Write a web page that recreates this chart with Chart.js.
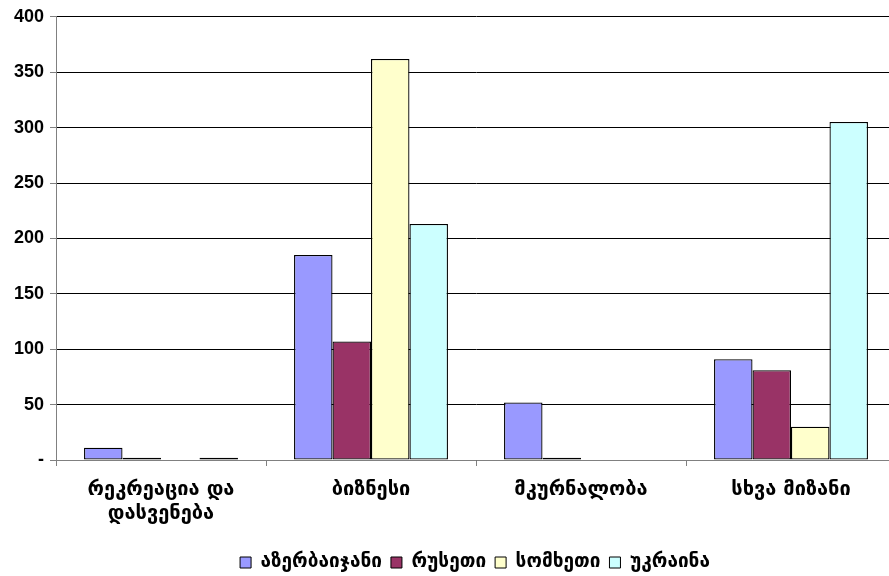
<!DOCTYPE html>
<html>
<head>
<meta charset="utf-8">
<script src="https://cdn.jsdelivr.net/npm/chart.js@4/dist/chart.umd.min.js"></script>
<style>
html,body{margin:0;padding:0;overflow:hidden;background:#fff;}
#wrap{position:absolute;left:0;top:0;width:950px;height:576px;}
</style>
</head>
<body>
<div id="wrap"><canvas id="c"></canvas></div>
<script>
const categories = [["რეკრეაცია და", "დასვენება"], "ბიზნესი", "მკურნალობა", "სხვა მიზანი"];
const seriesNames = ["აზერბაიჯანი", "რუსეთი", "სომხეთი", "უკრაინა"];
const azerbaijan = [11, 185, 52, 91];
const russia = [2, 107, 2, 81];
const armenia = [0, 362, 0, 30];
const ukraine = [2, 213, 0, 305];
const seriesColors = ["#9999FF", "#993366", "#FFFFCC", "#CCFFFF"];
const yTicks = [0, 50, 100, 150, 200, 250, 300, 350, 400];

const values = [azerbaijan, russia, armenia, ukraine];
const geo = "'DejaVu Sans', sans-serif";

new Chart(document.getElementById('c'), {
  type: 'bar',
  data: {
    labels: categories,
    datasets: seriesNames.map((n, i) => ({
      label: n,
      data: values[i],
      backgroundColor: seriesColors[i],
      borderColor: '#000',
      borderWidth: 1.3,
      borderSkipped: false,
      categoryPercentage: 0.733,
      barPercentage: 1.0
    }))
  },
  options: {
    responsive: true,
    maintainAspectRatio: false,
    animation: false,
    layout: { padding: { left: 0, right: 0, top: 15, bottom: -6 } },
    plugins: {
      tooltip: { enabled: false },
      legend: {
        position: 'bottom',
        labels: {
          boxWidth: 11, boxHeight: 11,
          color: '#000',
          font: { family: geo, size: 19, weight: 'bold' },
          padding: 9,
          generateLabels: (chart) => chart.data.datasets.map((d, i) => ({
            text: d.label, fillStyle: d.backgroundColor, strokeStyle: '#000', lineWidth: 1, datasetIndex: i, fontColor: '#000'
          }))
        }
      }
    },
    scales: {
      x: {
        grid: { display: true, drawOnChartArea: false, offset: true, tickLength: 6, color: '#808080' },
        border: { color: '#808080' },
        ticks: { color: '#000', font: { family: geo, size: 20, weight: 'bold' }, maxRotation: 0, padding: 12, lineHeight: 1.2 },
        afterFit: (s) => { s.height = 84; }
      },
      y: {
        min: 0, max: 400,
        afterBuildTicks: (s) => { s.ticks = yTicks.map(v => ({ value: v })); },
        grid: { color: '#000', tickLength: 6, tickColor: '#808080' },
        border: { color: '#808080' },
        ticks: {
          color: '#000',
          font: { family: "'Liberation Sans', Arial, sans-serif", size: 18, weight: 'bold' },
          padding: 6,
          callback: (v) => v === 0 ? '-' : v
        },
        afterFit: (s) => { s.width = 56; }
      },
      yRight: {
        position: 'right',
        min: 0, max: 400,
        grid: { display: false, drawOnChartArea: false },
        border: { display: false },
        ticks: { display: false },
        afterFit: (s) => { s.width = 54; }
      }
    }
  }
});
</script>
</body>
</html>
